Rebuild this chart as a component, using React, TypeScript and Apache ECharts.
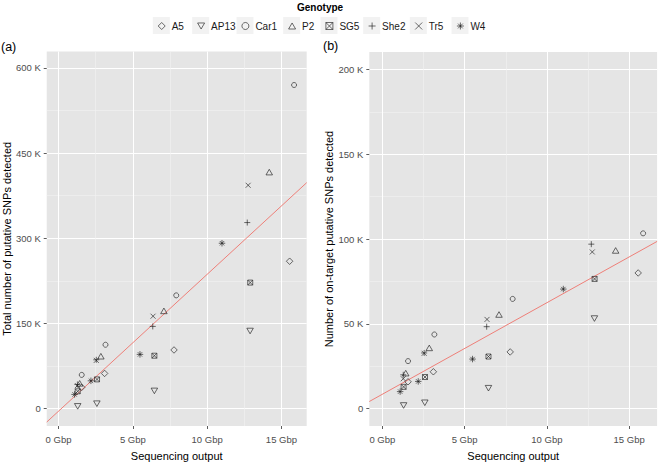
import React, { useEffect, useRef } from "react";
import * as echarts from "echarts";

// ---------------- data ----------------
const genotypes = ["A5", "AP13", "Car1", "P2", "SG5", "She2", "Tr5", "W4"];

// 4 samples per genotype, in the order of `genotypes`
const sampleGenotype = [
  "A5", "A5", "A5", "A5",
  "AP13", "AP13", "AP13", "AP13",
  "Car1", "Car1", "Car1", "Car1",
  "P2", "P2", "P2", "P2",
  "SG5", "SG5", "SG5", "SG5",
  "She2", "She2", "She2", "She2",
  "Tr5", "Tr5", "Tr5", "Tr5",
  "W4", "W4", "W4", "W4",
];

// Sequencing output (Gbp)
const sequencingGbp = [
  1.56, 3.1, 7.77, 15.55,
  1.29, 2.58, 6.45, 12.89,
  1.56, 3.16, 7.92, 15.85,
  1.42, 2.85, 7.09, 14.18,
  1.29, 2.59, 6.45, 12.9,
  1.27, 2.54, 6.34, 12.7,
  1.27, 2.54, 6.36, 12.76,
  1.08, 2.18, 5.48, 11.0,
];

// (a) Total number of putative SNPs detected
const totalSnps = [
  37500, 62000, 103300, 259600,
  4000, 8700, 31200, 136700,
  59400, 112500, 199500, 570000,
  44500, 92300, 172200, 416600,
  30500, 51500, 93200, 222000,
  42500, 86000, 144800, 327700,
  40500, 85000, 162800, 393400,
  25000, 49000, 95500, 291300,
];

// (b) Number of on-target putative SNPs detected
const onTargetSnps = [
  15800, 21700, 33400, 80000,
  1800, 3400, 12000, 53100,
  28000, 43700, 64700, 103400,
  20900, 35800, 55500, 93300,
  12800, 18600, 30700, 76500,
  19900, 32800, 48300, 97000,
  17600, 32600, 52600, 92400,
  10000, 16000, 29200, 70500,
];

// linear fits (SNPs per Gbp, intercept)
const fitA = { slope: 24100, intercept: -4500 };
const fitB = { slope: 5400, intercept: 8450 };

// tick values
const xTickValues = [0, 5, 10, 15];
const yTickValuesA = [0, 150000, 300000, 450000, 600000];
const yTickValuesB = [0, 50000, 100000, 150000, 200000];

// ---------------- styling / layout ----------------
const FONT = "Liberation Sans, Arial, Helvetica, sans-serif";
const X_RANGE: [number, number] = [-0.795, 16.7];
const Y_RANGE_A: [number, number] = [-30600, 629000];
const Y_RANGE_B: [number, number] = [-10300, 210400];
const legendKeyX = [161.3, 200.7, 245, 291.7, 329, 371.7, 418.3, 460];

const symbolFor: Record<string, string> = {
  A5: "path://M5,0L10,5L5,10L0,5Z",
  AP13: "path://M0,0L10,0L5,8.66Z",
  Car1: "circle",
  P2: "path://M5,0L10,8.66L0,8.66Z",
  SG5: "path://M0,0L10,0L10,10L0,10ZM0,0L10,10M10,0L0,10",
  She2: "path://M5,0L5,10M0,5L10,5",
  Tr5: "path://M0,0L10,10M10,0L0,10",
  W4: "path://M5,0L5,10M0,5L10,5M1.6,1.6L8.4,8.4M8.4,1.6L1.6,8.4",
};
const sizeFor: Record<string, number | number[]> = {
  A5: 6.5,
  AP13: [6.5, 5.6],
  Car1: 5,
  P2: [6.5, 5.6],
  SG5: 5,
  She2: 6,
  Tr5: 5,
  W4: 6.5,
};

const fmtK = (v: number) => (v === 0 ? "0" : `${v / 1000} K`);

function xAxisFor(gridIndex: number) {
  return {
    type: "value",
    gridIndex,
    min: X_RANGE[0],
    max: X_RANGE[1],
    minInterval: 5,
    maxInterval: 5,
    axisLine: { show: false, onZero: false },
    axisTick: {
      show: true,
      length: 3,
      customValues: xTickValues,
      lineStyle: { color: "#333", width: 0.8 },
    },
    axisLabel: {
      customValues: xTickValues,
      formatter: (v: number) => `${v} Gbp`,
      color: "#4D4D4D",
      fontSize: 9.5,
      fontFamily: FONT,
      margin: 8,
    },
    splitLine: { show: true, lineStyle: { color: "#FFFFFF", width: 1 } },
    minorTick: { show: false, splitNumber: 2 },
    minorSplitLine: { show: true, lineStyle: { color: "#F2F2F2", width: 0.6 } },
    name: "Sequencing output",
    nameLocation: "middle",
    nameGap: 24,
    nameTextStyle: { color: "#000", fontSize: 11, fontFamily: FONT },
  };
}

function yAxisFor(gridIndex: number, range: [number, number], ticks: number[], step: number, name: string) {
  return {
    type: "value",
    gridIndex,
    min: range[0],
    max: range[1],
    minInterval: step,
    maxInterval: step,
    axisLine: { show: false, onZero: false },
    axisTick: {
      show: true,
      length: 3,
      customValues: ticks,
      lineStyle: { color: "#333", width: 0.8 },
    },
    axisLabel: {
      customValues: ticks,
      formatter: fmtK,
      color: "#4D4D4D",
      fontSize: 9.5,
      fontFamily: FONT,
      margin: 6,
    },
    splitLine: { show: true, lineStyle: { color: "#FFFFFF", width: 1 } },
    minorTick: { show: false, splitNumber: 2 },
    minorSplitLine: { show: true, lineStyle: { color: "#F2F2F2", width: 0.6 } },
    name,
    nameLocation: "middle",
    nameGap: 28,
    nameRotate: 90,
    nameTextStyle: { color: "#000", fontSize: 11, fontFamily: FONT },
  };
}

function buildOption() {
  const scatterSeries: any[] = [];
  [0, 1].forEach((panel) => {
    const values = panel === 0 ? totalSnps : onTargetSnps;
    genotypes.forEach((g) => {
      const data: number[][] = [];
      sampleGenotype.forEach((sg, i) => {
        if (sg === g) data.push([sequencingGbp[i], values[i]]);
      });
      scatterSeries.push({
        type: "scatter",
        name: g,
        xAxisIndex: panel,
        yAxisIndex: panel,
        data,
        symbol: symbolFor[g],
        symbolSize: sizeFor[g],
        itemStyle: { color: "rgba(0,0,0,0)", borderColor: "#1a1a1a", borderWidth: 0.8 },
        emphasis: { disabled: true },
        z: 3,
      });
    });
  });

  const fitLine = (panel: number, fit: { slope: number; intercept: number }) => ({
    type: "line",
    xAxisIndex: panel,
    yAxisIndex: panel,
    data: X_RANGE.map((x) => [x, fit.intercept + fit.slope * x]),
    symbol: "none",
    showSymbol: false,
    lineStyle: { color: "#EE7F78", width: 1 },
    silent: true,
    z: 2,
  });

  const legends = genotypes.map((g, i) => ({
    data: [g],
    left: legendKeyX[i] - 3.5,
    top: 21,
    padding: 0,
    itemWidth: 7,
    itemHeight: 7,
    selectedMode: false,
    z: 10,
    itemStyle: { color: "rgba(0,0,0,0)", borderColor: "#1a1a1a", borderWidth: 0.8 },
    textStyle: { fontSize: 10, color: "#1a1a1a", fontFamily: FONT, padding: [0, 0, 0, 1.5] },
  }));

  const keyRects = legendKeyX.map((cx) => ({
    type: "rect",
    shape: { x: cx - 8.5, y: 17, width: 17, height: 17 },
    style: { fill: "#F2F2F2" },
    z: 0,
    silent: true,
  }));

  return {
    animation: false,
    backgroundColor: "#FFFFFF",
    title: {
      text: "Genotype",
      left: 297,
      top: 2,
      padding: 0,
      textStyle: { fontSize: 10, fontWeight: "bold", color: "#000", fontFamily: FONT },
    },
    legend: legends,
    grid: [
      { left: 45, top: 51.5, width: 261.7, height: 381.2, show: true, backgroundColor: "#E5E5E5", borderWidth: 0 },
      { left: 369.3, top: 52, width: 287.8, height: 380.7, show: true, backgroundColor: "#E5E5E5", borderWidth: 0 },
    ],
    xAxis: [xAxisFor(0), xAxisFor(1)],
    yAxis: [
      yAxisFor(0, Y_RANGE_A, yTickValuesA, 150000, "Total number of putative SNPs detected"),
      yAxisFor(1, Y_RANGE_B, yTickValuesB, 50000, "Number of on-target putative SNPs detected"),
    ],
    graphic: [
      ...keyRects,
      {
        type: "text",
        left: 1,
        top: 40,
        style: { text: "(a)", fontSize: 12.5, fill: "#000", fontFamily: FONT },
      },
      {
        type: "text",
        left: 323,
        top: 39,
        style: { text: "(b)", fontSize: 12.5, fill: "#000", fontFamily: FONT },
      },
    ],
    series: [fitLine(0, fitA), fitLine(1, fitB), ...scatterSeries],
  };
}

export default function App() {
  const ref = useRef<HTMLDivElement>(null);
  useEffect(() => {
    if (!ref.current) return;
    const chart = echarts.init(ref.current, undefined, { renderer: "svg" });
    chart.setOption(buildOption() as any);
    return () => chart.dispose();
  }, []);
  return (
    <div
      ref={ref}
      style={{ width: 659, height: 466, position: "absolute", left: 0, top: 0 }}
    />
  );
}
